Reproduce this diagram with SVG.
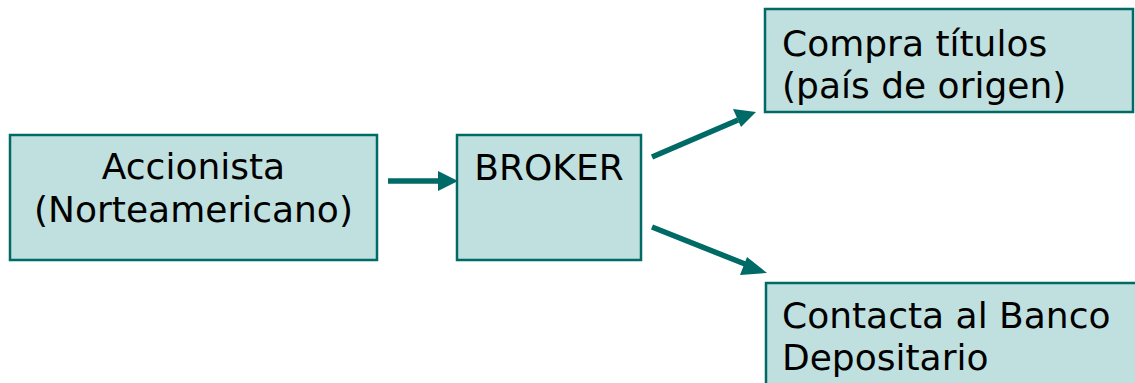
<svg xmlns="http://www.w3.org/2000/svg" width="1135" height="383" viewBox="0 0 1135 383">
<style>
.box{fill:#C0E0DF;stroke:#006A66;stroke-width:2.5}
.t{font-family:"DejaVu Sans",Verdana,sans-serif;font-size:36px;fill:#000}
.c{text-anchor:middle}
.arr{stroke:#006A66;stroke-width:5.5;fill:none}
.head{fill:#006A66}
</style>
<rect width="1135" height="383" fill="#fff"/>
<g id="node-accionista">
<rect class="box" x="10" y="135" width="367" height="125"/>
<text class="t c" x="193.5" y="179">Accionista</text>
<text class="t c" x="193.5" y="222">(Norteamericano)</text>
</g>
<g id="node-broker">
<rect class="box" x="457" y="135" width="184" height="125"/>
<text class="t c" x="549" y="180">BROKER</text>
</g>
<g id="node-compra">
<rect class="box" x="765" y="9" width="368" height="103"/>
<text class="t" x="782" y="56">Compra títulos</text>
<text class="t" x="782" y="98">(país de origen)</text>
</g>
<g id="node-contacta">
<rect class="box" x="766" y="283" width="372" height="110"/>
<text class="t" x="782" y="328">Contacta al Banco</text>
<text class="t" x="782" y="370">Depositario</text>
</g>
<g id="connectors">
<line class="arr" x1="388" y1="181" x2="441" y2="181"/>
<polygon class="head" points="458,181 438,171 438,191"/>
<line class="arr" x1="652" y1="157" x2="738" y2="120"/>
<polygon class="head" points="756,112 733,109 741,127"/>
<line class="arr" x1="652" y1="227" x2="750" y2="266"/>
<polygon class="head" points="767,273 747,257 740,275"/>
</g>
</svg>
